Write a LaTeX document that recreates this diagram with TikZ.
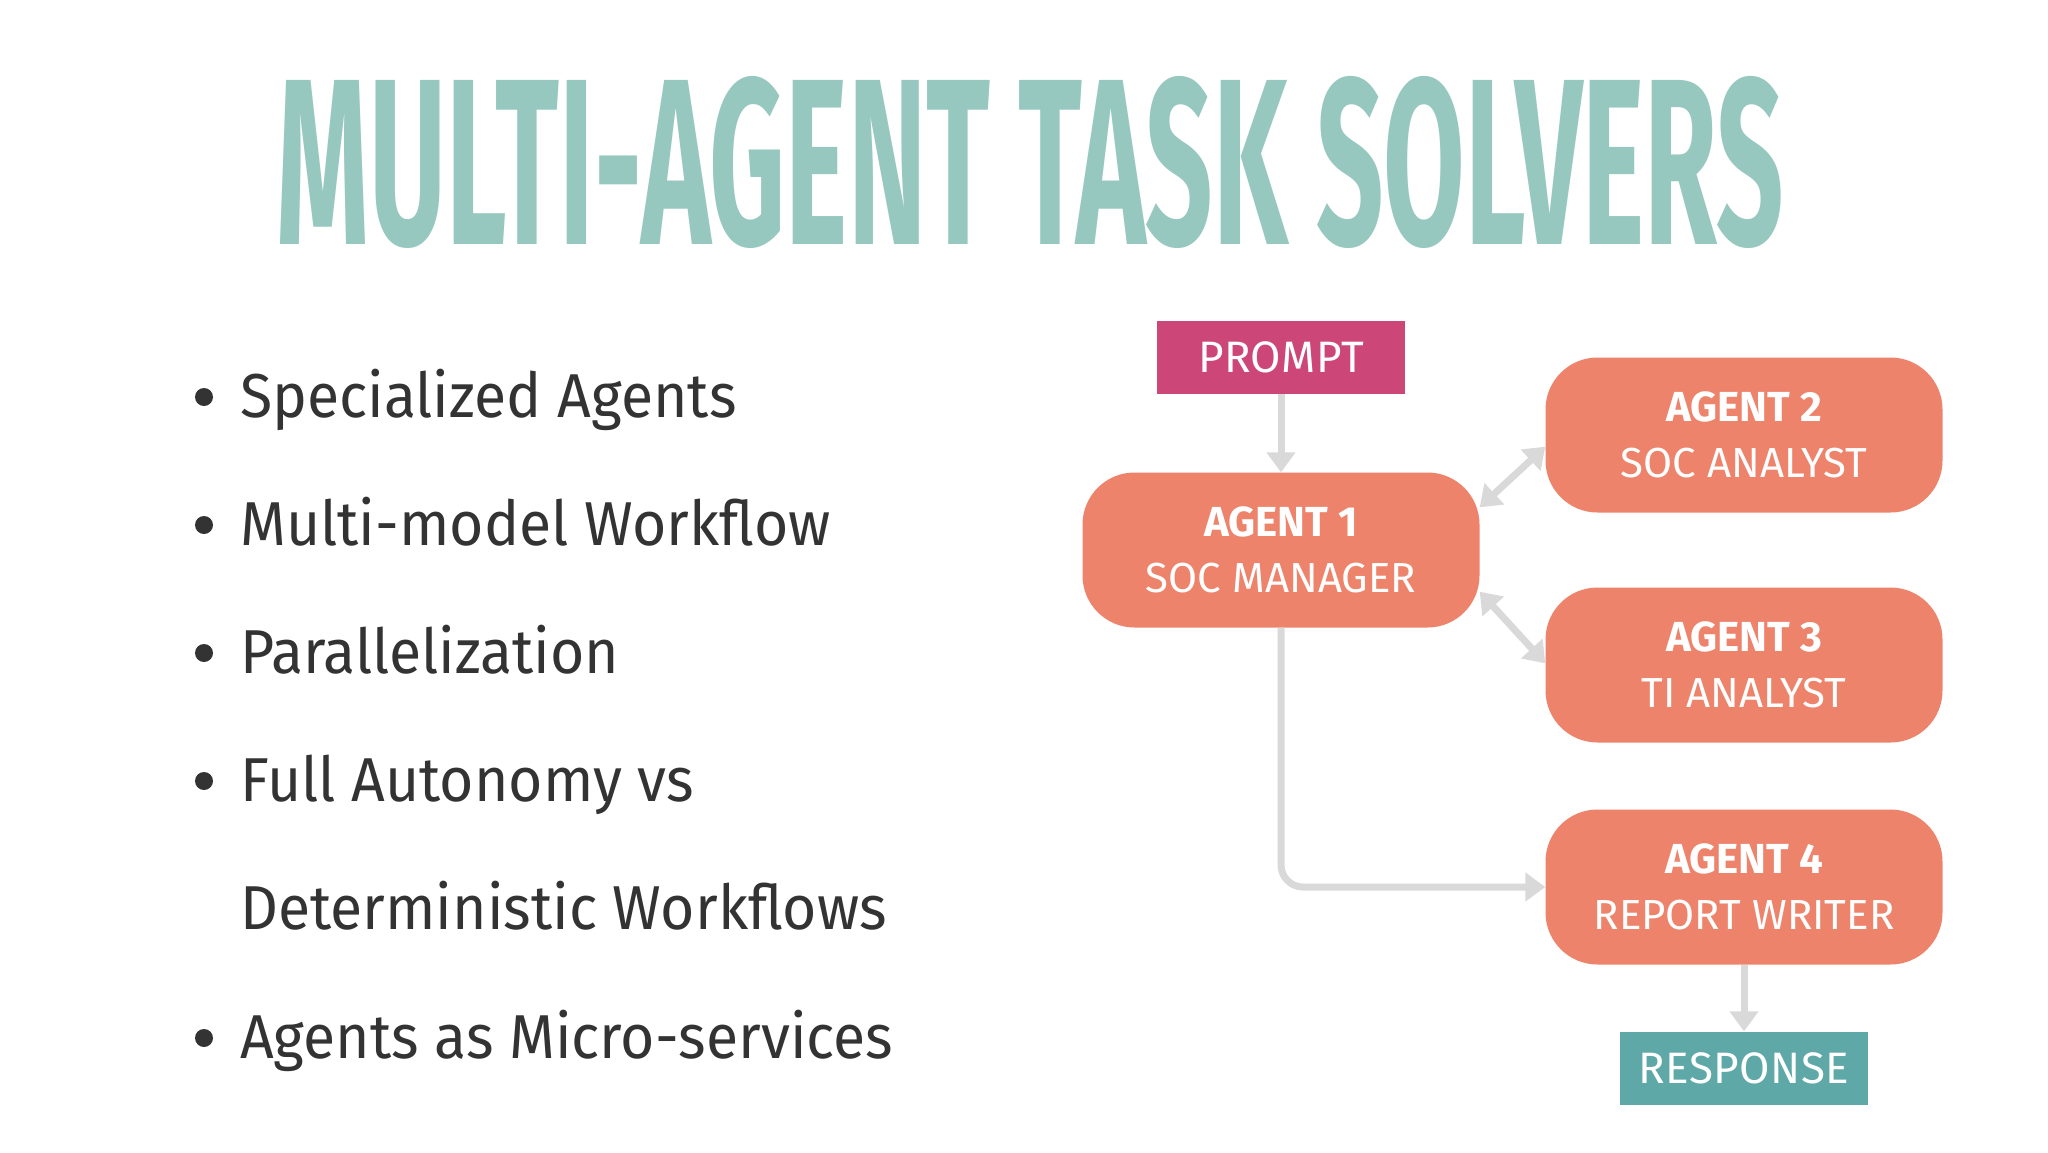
\documentclass[tikz,border=0pt]{standalone}
\usepackage{fontspec}
\setmainfont{Fira Sans}
\usetikzlibrary{arrows.meta,calc}
\definecolor{titlec}{HTML}{97C8C0}
\definecolor{boxc}{HTML}{EE836C}
\definecolor{promptc}{HTML}{CC4677}
\definecolor{respc}{HTML}{5FA8A8}
\definecolor{arrc}{HTML}{D9D9D9}
\definecolor{txt}{HTML}{333333}
\tikzset{
 agent/.style={fill=boxc,rounded corners=52pt,minimum width=397pt,minimum height=155pt,text=white,align=center,inner sep=0pt,font=\fontsize{42}{58}\selectfont},
 flat/.style={minimum width=248pt,minimum height=73pt,text=white,inner sep=0pt,font=\fontsize{44}{50}\selectfont\addfontfeature{LetterSpace=1}},
 conn/.style={draw=arrc,line width=7pt,-{Triangle[width=28pt,length=20pt]}},
 dconn/.style={draw=arrc,line width=7pt,{Triangle[width=28pt,length=20pt]}-{Triangle[width=28pt,length=20pt]}},
 bullet/.style={anchor=base west,text=txt,inner sep=0pt,font=\fontsize{62}{70}\selectfont\addfontfeature{FakeStretch=0.95}}
}
\begin{document}
\begin{tikzpicture}[x=1pt,y=1pt]
\useasboundingbox (0,0) rectangle (2048,-1152);
\fill[white] (0,0) rectangle (2048,-1152);
\node[anchor=south west,inner sep=0pt,text=titlec] (title) at (276,-249)
 {\resizebox{1507pt}{168pt}{\bfseries MULTI-AGENT TASK SOLVERS}};
\foreach \t/\y/\b [count=\i] in {Specialized Agents/417/1,Multi-model Workflow/545/1,Parallelization/673/1,Full Autonomy vs/801/1,Deterministic Workflows/929/0,Agents as Micro-services/1058/1}{
 \node[bullet] (b\i) at (240,-\y) {\t};
 \ifnum\b=1 \fill[txt] (204,-\y+20) circle (9pt);\fi
}
\node[flat,fill=promptc] (prompt) at (1281,-357) {PROMPT};
\node[agent] (a1) at (1281,-550) {\textbf{AGENT 1}\\[-2pt]SOC MANAGER};
\node[agent] (a2) at (1744,-435) {\textbf{AGENT 2}\\[-2pt]SOC ANALYST};
\node[agent] (a3) at (1744,-665) {\textbf{AGENT 3}\\[-2pt]TI ANALYST};
\node[agent] (a4) at (1744,-887) {\textbf{AGENT 4}\\[-2pt]REPORT WRITER};
\node[flat,fill=respc] (resp) at (1744,-1068) {RESPONSE};
\draw[conn] (prompt.south) -- (a1.north);
\draw[dconn] ($(a1.north east)+(0,-35)$) -- ($(a2.south west)+(0,66)$);
\draw[dconn] ($(a1.south east)+(0,36)$) -- ($(a3.north west)+(0,-76)$);
\draw[conn,rounded corners=22pt] (a1.south) |- (a4.west);
\draw[conn] (a4.south) -- (resp.north);
\end{tikzpicture}
\end{document}
